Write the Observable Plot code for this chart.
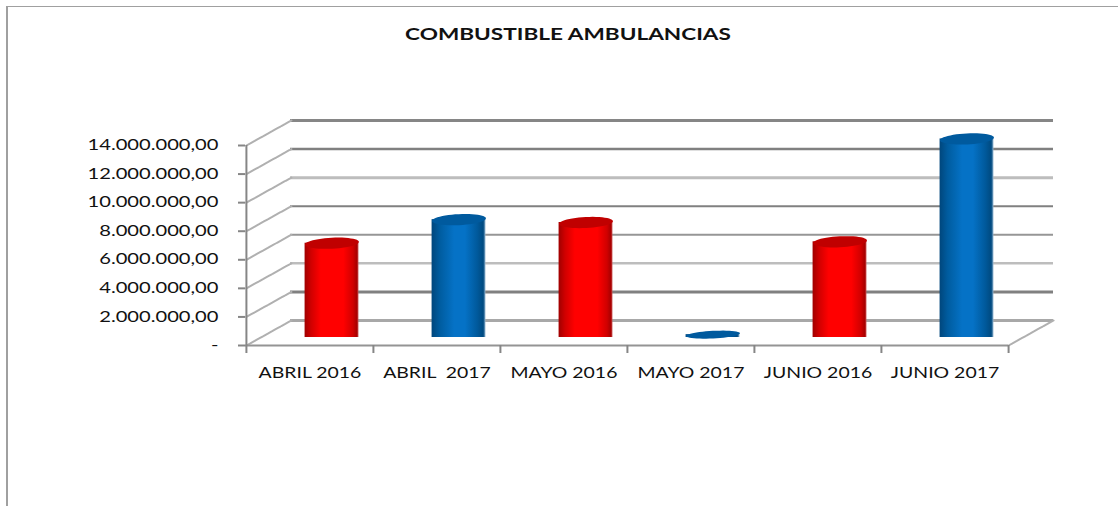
<!DOCTYPE html>
<html><head><meta charset="utf-8">
<script src="https://cdn.jsdelivr.net/npm/d3@7"></script>
<script src="https://cdn.jsdelivr.net/npm/@observablehq/plot@0.6"></script>
<style>
html,body{margin:0;padding:0;background:#fff;overflow:hidden}
#chart{position:relative;width:1118px;height:506px}
#chart svg{position:absolute;left:0;top:0;background:none}
#frame{position:absolute;left:6px;top:6px;right:0;bottom:0;border-left:2.5px solid #a0a0a0;border-top:1.5px solid #a0a0a0}
</style></head><body>
<div id="chart"><div id="frame"></div></div>
<script>
const title = "COMBUSTIBLE AMBULANCIAS";
const categories = ["ABRIL 2016","ABRIL  2017","MAYO 2016","MAYO 2017","JUNIO 2016","JUNIO 2017"];
const years = ["2016","2017","2016","2017","2016","2017"];
const values = [6600000,8250000,8050000,200000,6700000,13900000];
const yTicks = [0,2000000,4000000,6000000,8000000,10000000,12000000,14000000];
const rows = categories.map((c,i)=>({cat:c,year:years[i],value:values[i]}));
const gridColors = ["#a8a8a8","#808080","#bdbdbd","#969696","#808080","#bdbdbd","#808080","#868686"];
const gridWidths = [3,3,2.5,2,2,3,2.5,3];
const grid = yTicks.map((v,i)=>({v,c:gridColors[i],w:gridWidths[i]}));

const nf = d3.formatLocale({decimal:",",thousands:".",grouping:[3],currency:["",""]}).format(",.2f");
const yFmt = d => d===0 ? "-" : nf(d);

const DX=45, DY=-25, BAR_DX=22, BAR_DY=-8;
const ellipse = (rx,ry) => ({draw(ctx,size){
  const k=Math.sqrt(size/Math.PI)/10, a=-0.05;
  for(let i=0;i<48;i++){
    const t=i/48*2*Math.PI, ex=rx*k*Math.cos(t), ey=ry*k*Math.sin(t);
    const px=ex*Math.cos(a)-ey*Math.sin(a), py=ex*Math.sin(a)+ey*Math.cos(a);
    if(i===0) ctx.moveTo(px,py); else ctx.lineTo(px,py);
  }
  ctx.closePath();
}});
const depth = {draw(ctx,l){ctx.moveTo(0,0);ctx.lineTo(0,-l);}};
const bw = (1008-245)/6;
const first = [categories[0]];
const fontBody = "Lato, 'Open Sans', sans-serif";
const capColor = d => d.year==="2016"?"#c00000":"#005a9e";

const defs = () => {
  const s = d3.create("svg:defs");
  const mk=(id,stops)=>{
    const g=s.append("linearGradient").attr("id",id).attr("x1",0).attr("x2",1).attr("y1",0).attr("y2",0);
    stops.forEach(([o,c])=>g.append("stop").attr("offset",o).attr("stop-color",c));
  };
  mk("cylRed",[[0,"#a00000"],[.12,"#d00000"],[.3,"#ff0000"],[.72,"#ff0000"],[.9,"#d00000"],[.97,"#a80000"],[1,"#c85050"]]);
  mk("cylBlue",[[0,"#00467c"],[.15,"#005c9f"],[.42,"#0572c6"],[.62,"#0572c6"],[.85,"#00599b"],[.96,"#004a80"],[1,"#8fb3cf"]]);
  return s.node();
};

const plot = Plot.plot({
  width:1118,height:506,
  marginLeft:245,marginRight:110,marginTop:145,marginBottom:161,
  style:{background:"transparent",overflow:"visible"},
  x:{type:"band",domain:categories,padding:0,axis:null},
  y:{domain:[0,14000000],axis:null},
  color:{domain:["2016","2017"],range:["url(#cylRed)","url(#cylBlue)"]},
  marks:[
    defs,
    Plot.ruleY(grid,{y:"v",stroke:"c",strokeWidth:"w",dx:DX,dy:DY}),
    Plot.vector(yTicks,{x:()=>categories[0],y:d=>d,dx:-bw/2,length:51.5,rotate:60.9,anchor:"start",shape:depth,stroke:"#b0b0b0",strokeWidth:2,strokeDasharray:"4 1"}),
    Plot.vector([0],{x:()=>categories[5],y:d=>d,dx:bw/2,length:51.5,rotate:60.9,anchor:"start",shape:depth,stroke:"#b0b0b0",strokeWidth:2,strokeDasharray:"4 1"}),
    Plot.ruleY([0],{stroke:"#949494",strokeWidth:2}),
    Plot.ruleX(first,{x:d=>d,y1:0,y2:14000000,dx:-bw/2,stroke:"#868686",strokeWidth:2}),
    Plot.axisY({ticks:yTicks,tickSize:7,tickPadding:20,tickFormat:yFmt,stroke:"#868686",strokeWidth:2,fontSize:14.5,fill:"#111",fontFamily:fontBody,label:null,textStroke:"none",className:"ylab"}),
    Plot.ruleX(categories,{x:d=>d,y1:0,y2:0,insetBottom:-8,dx:-bw/2,stroke:"#868686",strokeWidth:2}),
    Plot.ruleX([categories[5]],{x:d=>d,y1:0,y2:0,insetBottom:-8,dx:bw/2,stroke:"#868686",strokeWidth:2}),
    Plot.barY(rows,{x:"cat",y:"value",fill:"year",insetLeft:bw/2-27,insetRight:bw/2-27,dx:BAR_DX,dy:BAR_DY}),
    Plot.dot(rows.filter(d=>d.value>=1e6),{x:"cat",y:"value",r:10,symbol:ellipse(27,5.5),dx:BAR_DX,dy:BAR_DY,fill:capColor,stroke:"none"}),
    Plot.dot(rows.filter(d=>d.value<1e6),{x:"cat",y:"value",r:10,symbol:ellipse(27,3.8),dx:BAR_DX,dy:BAR_DY,fill:capColor,stroke:"none"}),
    Plot.text(rows,{x:"cat",frameAnchor:"bottom",text:"cat",dy:32,fontSize:14.5,fill:"#111",fontFamily:fontBody,className:"xlab"}),
    Plot.text([title],{frameAnchor:"top",text:d=>d,dx:-59,dy:-118,fontSize:17.5,fontWeight:700,fill:"#111",fontFamily:fontBody,className:"tlab"})
  ]
});
document.getElementById("chart").appendChild(plot);
// The reference text is stretched horizontally: widen the glyphs of the real text.
const stretch=(sel,f)=>plot.querySelectorAll(sel).forEach(t=>{
  const w=t.getComputedTextLength();
  t.setAttribute("textLength",w*f);
  t.setAttribute("lengthAdjust","spacingAndGlyphs");
});
stretch("text",1);
plot.querySelectorAll("text").forEach(t=>{t.removeAttribute("textLength");t.removeAttribute("lengthAdjust");});
stretch(".ylab text, text.ylab",1.39);
stretch(".xlab text, text.xlab",1.34);
stretch(".tlab text, text.tlab",1.29);
</script></body></html>
